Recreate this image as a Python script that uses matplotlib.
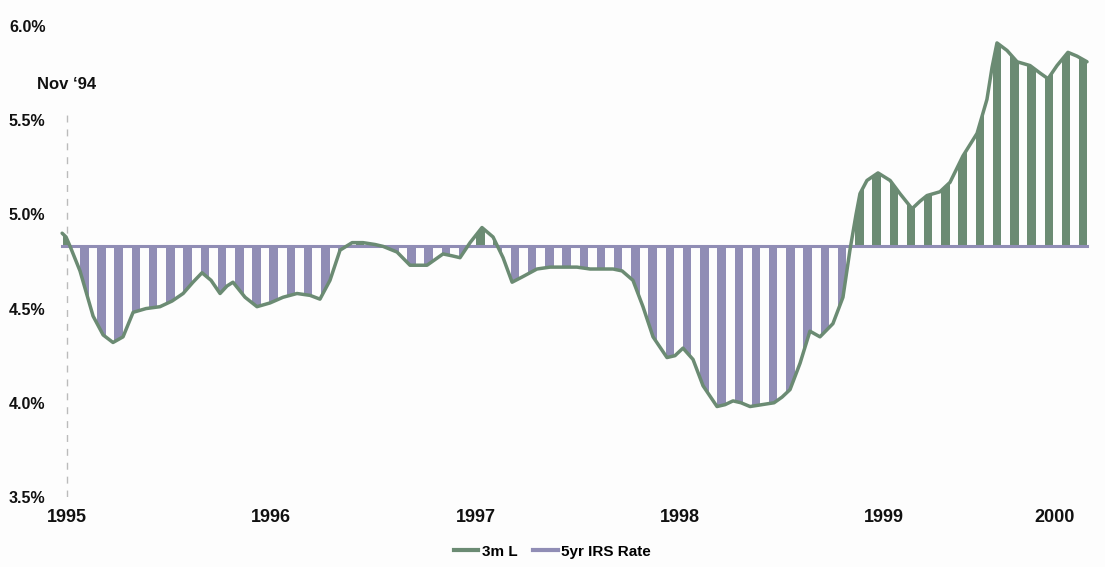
import numpy as np
import matplotlib
matplotlib.use("Agg")
import matplotlib.pyplot as plt
from matplotlib.patches import Polygon
from matplotlib.lines import Line2D

plt.rcParams['font.family'] = ['Liberation Sans', 'DejaVu Sans']

# months since Nov '94 and the 3m Libor path (%)
months = [-0.29, -0.06, 0.18, 0.76, 1.53, 2.12, 2.70, 3.29, 3.88, 4.64, 5.46, 6.17,
          6.82, 7.40, 7.93, 8.46, 8.99, 9.40, 9.75, 10.46, 11.16, 11.93, 12.69, 13.51,
          14.28, 14.86, 15.45, 16.04, 16.75, 17.39, 18.10, 18.57, 19.39, 20.15, 21.15,
          22.09, 22.62, 23.09, 23.68, 24.38, 25.03, 25.62, 26.15, 26.79, 27.61, 28.38,
          29.14, 29.96, 30.73, 32.08, 32.61, 33.25, 33.84, 34.43, 35.25, 35.72, 36.19,
          36.78, 37.37, 38.19, 38.66, 39.13, 39.60, 40.13, 40.83, 41.54, 42.01, 42.48,
          43.07, 43.65, 44.24, 45.00, 45.59, 46.00, 46.36, 46.59, 47.00, 47.65, 48.36,
          48.94, 49.65, 50.12, 50.53, 51.29, 51.88, 52.64, 53.47, 54.05, 54.35, 54.64,
          55.23, 55.82, 56.58, 57.17, 57.64, 58.17, 58.81, 59.34, 59.93]
libor_3m = [4.90, 4.88, 4.83, 4.70, 4.46, 4.36, 4.32, 4.35, 4.48, 4.50, 4.51, 4.54,
            4.58, 4.64, 4.69, 4.65, 4.58, 4.62, 4.64, 4.56, 4.51, 4.53, 4.56, 4.58,
            4.57, 4.55, 4.65, 4.81, 4.85, 4.85, 4.84, 4.83, 4.80, 4.73, 4.73,
            4.79, 4.78, 4.77, 4.85, 4.93, 4.88, 4.77, 4.64, 4.67, 4.71, 4.72,
            4.72, 4.72, 4.71, 4.71, 4.70, 4.65, 4.51, 4.35, 4.24, 4.25, 4.29,
            4.23, 4.09, 3.98, 3.99, 4.01, 4.00, 3.98, 3.99, 4.00, 4.03, 4.07,
            4.21, 4.38, 4.35, 4.42, 4.56, 4.81, 5.00, 5.11, 5.18, 5.22, 5.18,
            5.11, 5.03, 5.07, 5.10, 5.12, 5.17, 5.31, 5.43, 5.61, 5.78, 5.91,
            5.87, 5.81, 5.79, 5.75, 5.72, 5.79, 5.86, 5.84, 5.81]
irs_5yr = 4.83

year_pos = [0, 12, 24, 36, 48, 58]
year_labels = ['1995', '1996', '1997', '1998', '1999', '2000']
y_ticks = [3.5, 4.0, 4.5, 5.0, 5.5, 6.0]

green = '#6b8b73'
purple = '#908db5'

fig = plt.figure(figsize=(11.05, 5.67), dpi=100, facecolor='#fdfdfd')
ax = fig.add_axes([0.0499, 0.1235, 0.9426, 0.8307])
ax.set_facecolor('#fdfdfd')
ax.set_xlim(-0.7, 60.5)
ax.set_ylim(3.5, 6.0)

m = np.array(months)
r = np.array(libor_3m)

# area between the Libor path and the swap rate, used to clip the stripes
verts = list(zip(m, r)) + [(m[-1], irs_5yr), (m[0], irs_5yr)]
clip = Polygon(verts, closed=True, transform=ax.transData)

step = 1.012
centers = np.arange(0, 61, step)
below = ax.bar(centers, 3.5 - irs_5yr, bottom=irs_5yr, width=0.5,
               color=purple, linewidth=0, zorder=2)
above = ax.bar(centers, 6.0 - irs_5yr, bottom=irs_5yr, width=0.5,
               color=green, linewidth=0, zorder=2)
for bar in list(below) + list(above):
    bar.set_clip_path(clip)

ax.plot([m[0], m[-1]], [irs_5yr, irs_5yr], color=purple, lw=2.2, zorder=3)
ax.plot(m, r, color=green, lw=2.5, zorder=4, solid_joinstyle='round',
        solid_capstyle='round')

# start marker
ax.plot([0, 0], [3.5, 5.53], color='#bbbbbb', lw=1, ls=(0, (5, 5)), zorder=1)
ax.text(0, 5.687, 'Nov \u201894', ha='center', va='center',
        fontsize=12, fontweight='bold', color='#111111')

ax.set_xticks(year_pos)
ax.set_xticklabels(year_labels, fontsize=13, fontweight='bold', color='#111111')
ax.set_yticks(y_ticks)
ax.set_yticklabels([f'{v:.1f}%' for v in y_ticks], fontsize=11.5,
                   fontweight='bold', color='#111111')
ax.tick_params(axis='x', length=0, pad=9)
ax.tick_params(axis='y', length=0, pad=7)
for s in ax.spines.values():
    s.set_visible(False)

handles = [Line2D([], [], color=green, lw=3), Line2D([], [], color=purple, lw=3)]
fig.legend(handles, ['3m L', '5yr IRS Rate'], loc='center',
           bbox_to_anchor=(0.5, 0.027), ncol=2, frameon=False,
           handlelength=1.6, handletextpad=0.25, columnspacing=1.0,
           prop={'size': 11, 'weight': 'bold'})

fig.savefig('out.png', dpi=100, facecolor=fig.get_facecolor())
